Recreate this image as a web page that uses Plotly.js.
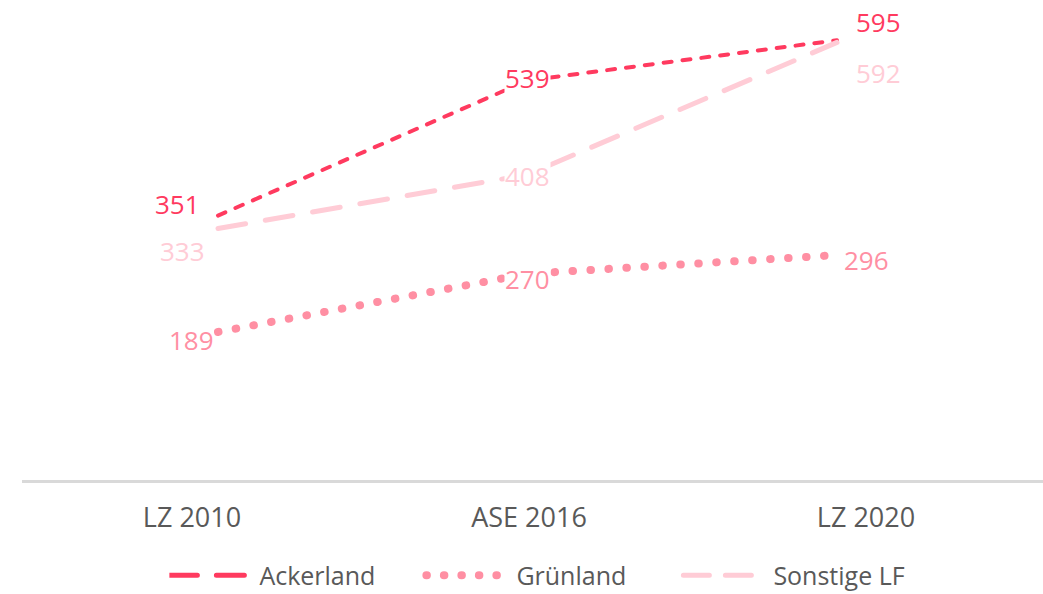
<!DOCTYPE html>
<html>
<head>
<meta charset="utf-8">
<script src="https://cdn.plot.ly/plotly-3.0.1.min.js"></script>
<style>
  html, body { margin: 0; padding: 0; background: #ffffff; }
  #chart { width: 1043px; height: 594px; }
  .js-line { stroke-linecap: round; }
</style>
</head>
<body>
<div id="chart"></div>
<script>
// ---- data ----
const categories = ["LZ 2010", "ASE 2016", "LZ 2020"];
const ackerland = [351, 539, 595];
const gruenland = [189, 270, 296];
const sonstige  = [333, 408, 592];
const seriesNames = ["Ackerland", "Grünland", "Sonstige LF"];

// ---- style ----
const colAcker = "#FF3A5F";
const colGruen = "#FF8FA3";
const colSonst = "#FFCCD6";
const FONT = "Open Sans, Noto Sans, sans-serif";

const traces = [
  { x: categories, y: ackerland, name: seriesNames[0], type: "scatter", mode: "lines",
    line: { color: colAcker, width: 4, dash: "8px,11px" }, hoverinfo: "skip" },
  { x: categories, y: gruenland, name: seriesNames[1], type: "scatter", mode: "lines",
    line: { color: colGruen, width: 8, dash: "0.5px,17.5px" }, hoverinfo: "skip" },
  { x: categories, y: sonstige, name: seriesNames[2], type: "scatter", mode: "lines",
    line: { color: colSonst, width: 5, dash: "28px,20px" }, hoverinfo: "skip" },
  // invisible carrier for the category tick axis
  { x: categories, y: ackerland, xaxis: "x2", type: "scatter", mode: "lines",
    line: { width: 0, color: "rgba(0,0,0,0)" }, showlegend: false, hoverinfo: "skip" }
];

// legend symbol styling (long symbols like the reference)
const legendDash = ["28px 19px", "0.5px 17px", "26px 16px"];
const legendWidth = [5, 8, 5];

// label placement per point index: [xanchor, xshift, yshift, bg]
const place = {
  acker:  [["right", -17, 12, false], ["center", 0, 2, true], ["left", 18, 18, false]],
  gruen:  [["right", -3, -8, false], ["center", 0, -5, true], ["left", 6, -5, false]],
  sonst:  [["right", -12, -22, false], ["center", 0, -1, true], ["left", 18, -31, false]]
};

const annotations = [];
function addLabels(vals, color, pl) {
  vals.forEach((v, i) => {
    const p = pl[i];
    annotations.push({
      x: categories[i], y: v, xref: "x", yref: "y",
      text: String(v), showarrow: false,
      xanchor: p[0], yanchor: "middle", xshift: p[1], yshift: p[2],
      font: { family: FONT, size: 26, color: color },
      bgcolor: p[3] ? "#ffffff" : "rgba(0,0,0,0)", borderpad: 0
    });
  });
}
addLabels(ackerland, colAcker, place.acker);
addLabels(gruenland, colGruen, place.gruen);
addLabels(sonstige, colSonst, place.sonst);

const layout = {
  width: 1043, height: 594,
  margin: { l: 22, r: 0, t: 0, b: 114 },
  paper_bgcolor: "#ffffff", plot_bgcolor: "#ffffff",
  font: { family: FONT, size: 26, color: "#595959" },
  showlegend: true,
  xaxis: {
    type: "category", range: [-0.6333, 2.6656],
    showgrid: false, zeroline: false, showticklabels: false, ticks: "",
    showline: true, linecolor: "#D9D9D9", linewidth: 3
  },
  xaxis2: {
    type: "category", overlaying: "x", anchor: "y", side: "bottom",
    range: [-0.5045, 2.5252],
    showgrid: false, zeroline: false, showline: false, ticks: "",
    ticklabelstandoff: 19,
    tickfont: { family: FONT, size: 27, color: "#595959" }
  },
  yaxis: {
    range: [-17, 651], showgrid: false, zeroline: false,
    showticklabels: false, ticks: "", showline: false
  },
  legend: {
    orientation: "h", xref: "container", yref: "container",
    x: 0.532, xanchor: "center", y: 0.031, yanchor: "middle",
    font: { family: FONT, size: 25, color: "#595959" },
    itemwidth: 80, entrywidth: 162, bgcolor: "rgba(0,0,0,0)"
  },
  annotations: annotations
};

Plotly.newPlot("chart", traces, layout, { staticPlot: true, displayModeBar: false }).then(function (gd) {
  const groups = gd.querySelectorAll(".legend .traces");
  groups.forEach(function (g, i) {
    const p = g.querySelector("path.js-line");
    if (!p) return;
    p.setAttribute("d", "M0,0h80");
    p.style.strokeDasharray = legendDash[i];
    p.style.strokeWidth = legendWidth[i] + "px";
    p.style.strokeLinecap = "round";
  });
});
</script>
</body>
</html>
